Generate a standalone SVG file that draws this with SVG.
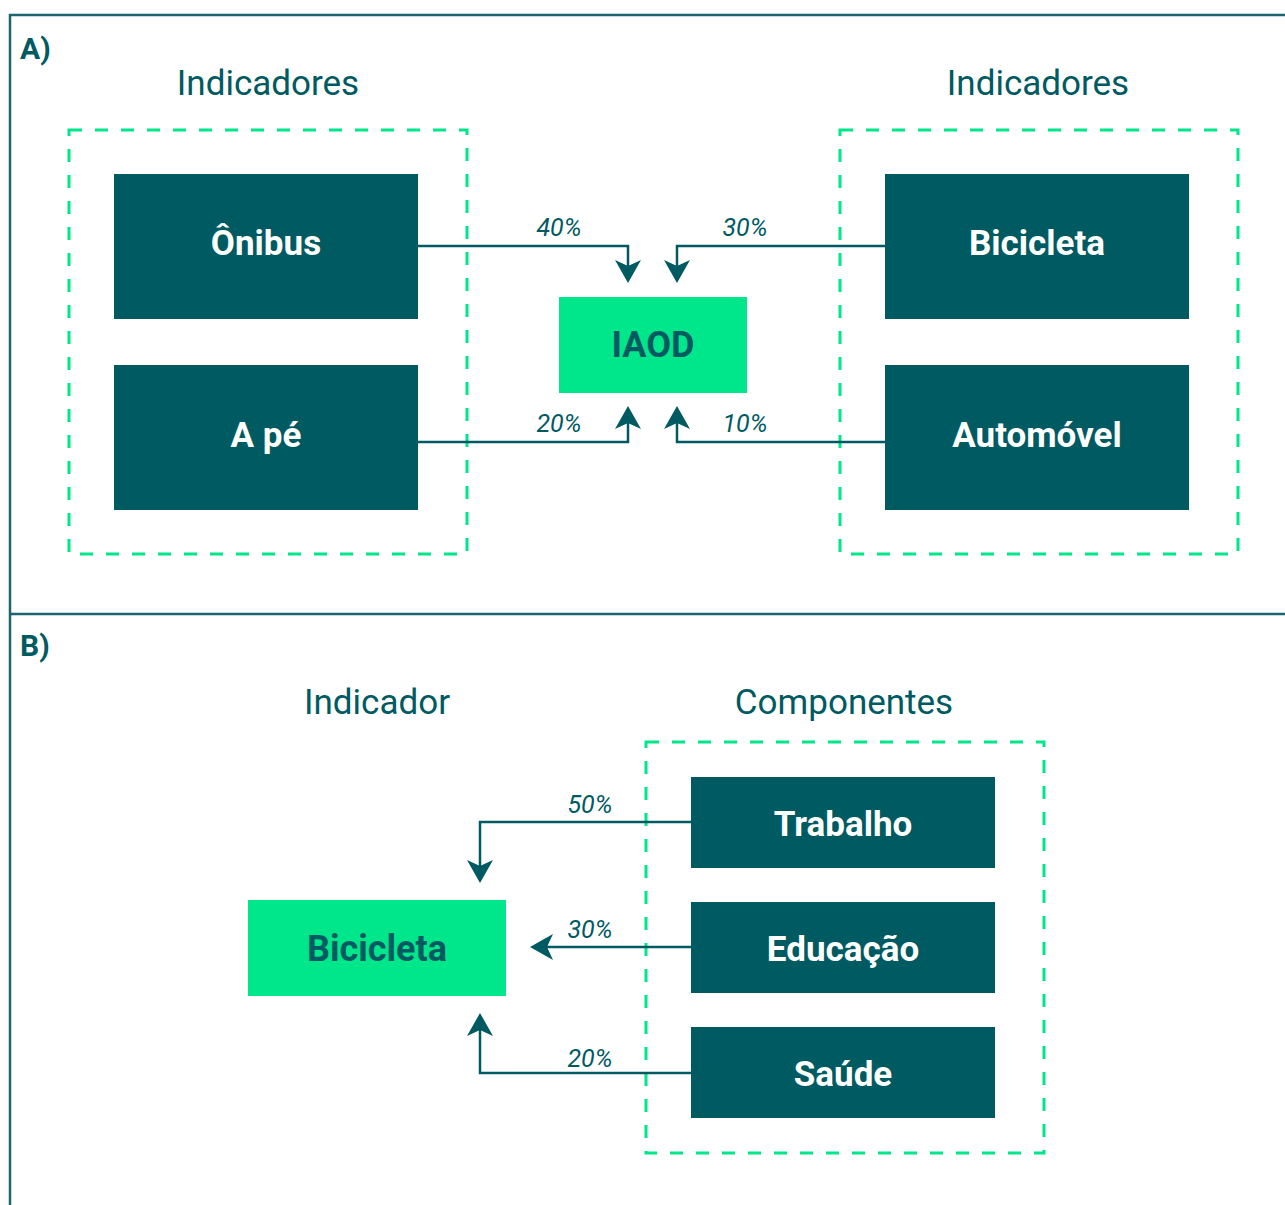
<svg xmlns="http://www.w3.org/2000/svg" width="1285" height="1205" viewBox="0 0 1285 1205">
<defs>
<style>
.frame{fill:none;stroke:#1a6570;stroke-width:2.5}
.dash{fill:none;stroke:#00e68a;stroke-width:3;stroke-dasharray:13 13}
.dark{fill:#005a62}
.green{fill:#00e68a}
.nt{font-family:Roboto,"Liberation Sans",sans-serif;font-weight:bold;font-size:35px;fill:#ffffff;text-anchor:middle}
.gt{font-family:Roboto,"Liberation Sans",sans-serif;font-weight:bold;font-size:36px;fill:#005a62;text-anchor:middle}
.title{font-family:Roboto,"Liberation Sans",sans-serif;font-size:35px;fill:#005a62;text-anchor:middle}
.sec{font-family:Roboto,"Liberation Sans",sans-serif;font-weight:bold;font-size:30px;fill:#005a62}
.pct{font-family:Roboto,"Liberation Sans",sans-serif;font-style:italic;font-size:25px;fill:#005a62;text-anchor:middle}
.conn{fill:none;stroke:#005a62;stroke-width:2.5}
.head{fill:#005a62;stroke:none}
</style>
<path id="ah" class="head" d="M0,0 L-13,-23 L0,-17 L13,-23 Z"/>
</defs>
<g id="frame">
<path class="frame" d="M1285,15 H10 V1205"/>
<path class="frame" d="M10,614 H1285"/>
<text class="sec" x="20" y="59">A)</text>
<text class="sec" x="20" y="656">B)</text>
</g>
<g id="titles">
<text class="title" x="268" y="95">Indicadores</text>
<text class="title" x="1038" y="95">Indicadores</text>
<text class="title" x="377" y="714">Indicador</text>
<text class="title" x="844" y="714">Componentes</text>
</g>
<g id="groups">
<rect class="dash" x="69" y="130" width="398" height="424"/>
<rect class="dash" x="840" y="130" width="398" height="424"/>
<rect class="dash" x="646" y="742" width="398" height="411"/>
</g>
<g id="connectors">
<path class="conn" d="M418,246 H628 V270"/>
<use href="#ah" transform="translate(628,283)"/>
<path class="conn" d="M885,246 H677 V270"/>
<use href="#ah" transform="translate(677,283)"/>
<path class="conn" d="M418,442 H628 V419"/>
<use href="#ah" transform="translate(628,406) rotate(180)"/>
<path class="conn" d="M885,442 H677 V419"/>
<use href="#ah" transform="translate(677,406) rotate(180)"/>
<path class="conn" d="M691,822 H480 V870"/>
<use href="#ah" transform="translate(480,883)"/>
<path class="conn" d="M691,947 H543"/>
<use href="#ah" transform="translate(530,947) rotate(90)"/>
<path class="conn" d="M691,1073 H480 V1026"/>
<use href="#ah" transform="translate(480,1013) rotate(180)"/>
<text class="pct" x="559" y="236">40%</text>
<text class="pct" x="745" y="236">30%</text>
<text class="pct" x="559" y="432">20%</text>
<text class="pct" x="745" y="432">10%</text>
<text class="pct" x="590" y="813">50%</text>
<text class="pct" x="590" y="938">30%</text>
<text class="pct" x="590" y="1067">20%</text>
</g>
<g id="node-onibus"><rect class="dark" x="114" y="174" width="304" height="145"/><text class="nt" x="266" y="255">Ônibus</text></g>
<g id="node-ape"><rect class="dark" x="114" y="365" width="304" height="145"/><text class="nt" x="266" y="447">A pé</text></g>
<g id="node-bicicleta-a"><rect class="dark" x="885" y="174" width="304" height="145"/><text class="nt" x="1037" y="255">Bicicleta</text></g>
<g id="node-automovel"><rect class="dark" x="885" y="365" width="304" height="145"/><text class="nt" x="1037" y="447">Automóvel</text></g>
<g id="node-iaod"><rect class="green" x="559" y="297" width="188" height="96"/><text class="gt" x="653" y="357">IAOD</text></g>
<g id="node-bicicleta-b"><rect class="green" x="248" y="900" width="258" height="96"/><text class="gt" x="377" y="961">Bicicleta</text></g>
<g id="node-trabalho"><rect class="dark" x="691" y="777" width="304" height="91"/><text class="nt" x="843" y="836">Trabalho</text></g>
<g id="node-educacao"><rect class="dark" x="691" y="902" width="304" height="91"/><text class="nt" x="843" y="961">Educação</text></g>
<g id="node-saude"><rect class="dark" x="691" y="1027" width="304" height="91"/><text class="nt" x="843" y="1086">Saúde</text></g>
</svg>
